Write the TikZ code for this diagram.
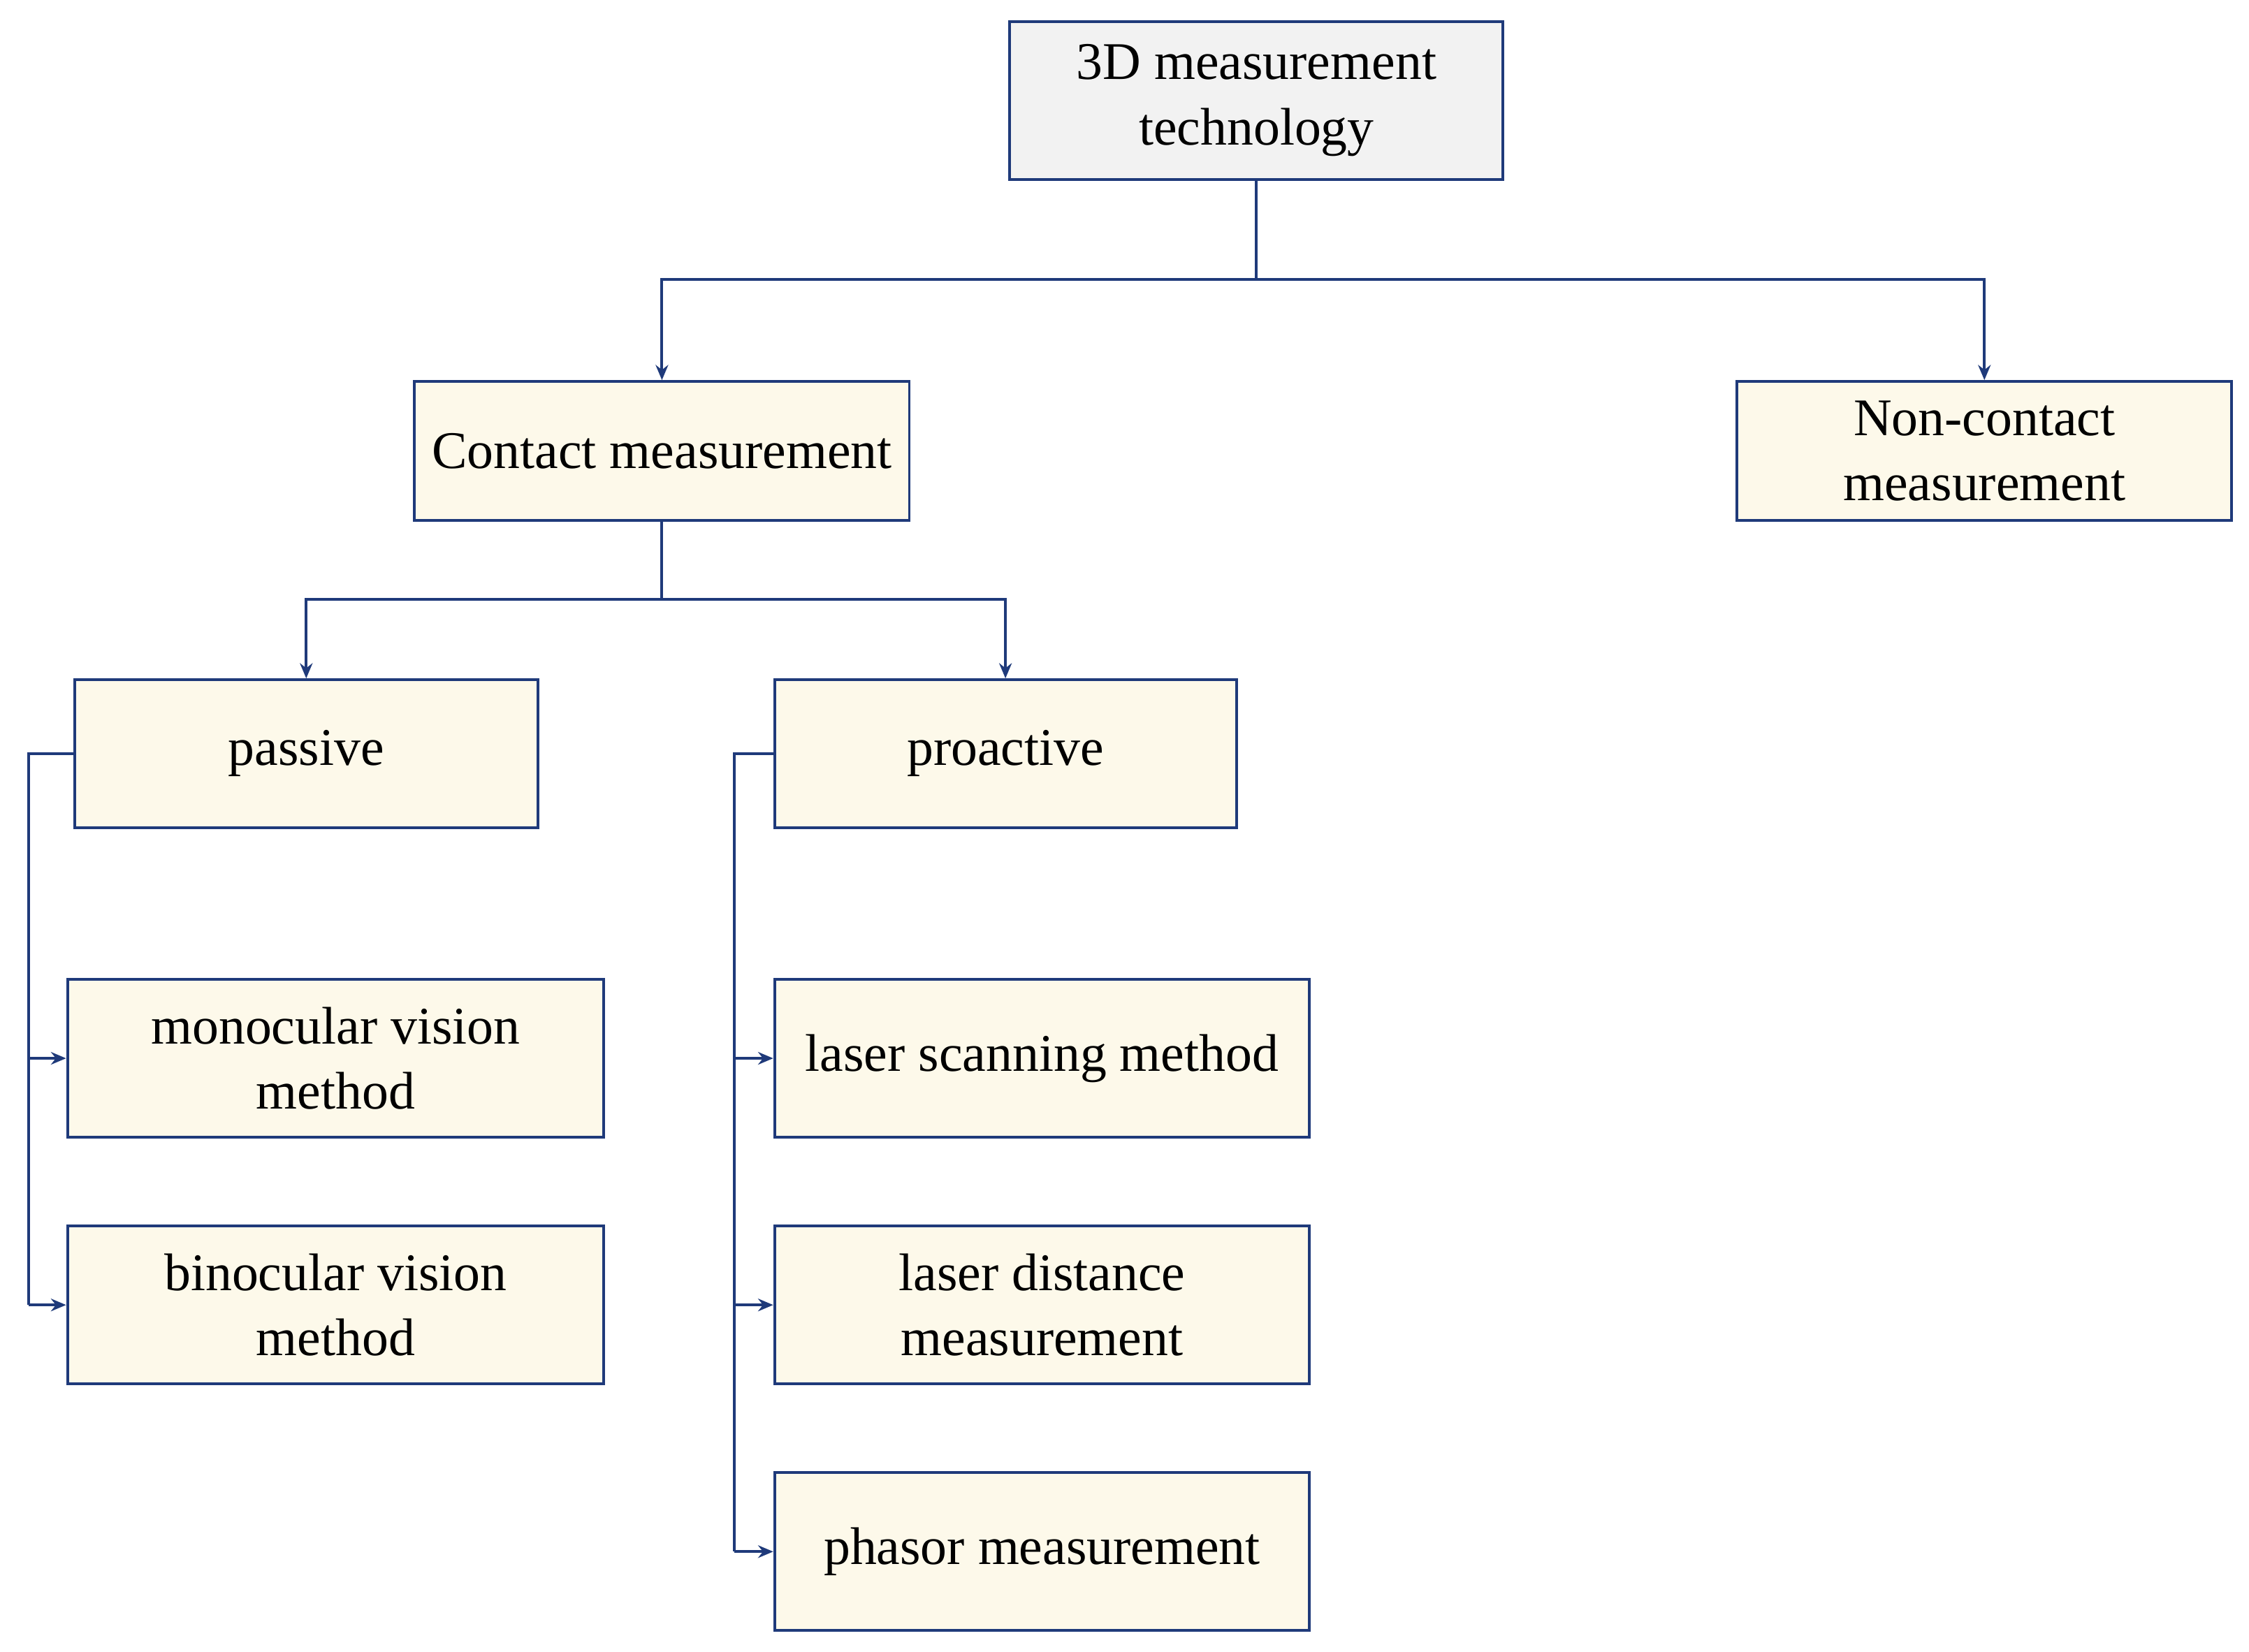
\documentclass[tikz,border=0pt]{standalone}
\usepackage{fontspec}
\setmainfont{Liberation Serif}
\usetikzlibrary{arrows.meta}
\definecolor{ln}{HTML}{1F3A7A}
\definecolor{cream}{HTML}{FDF9EA}
\begin{document}
\begin{tikzpicture}[x=0.02cm,y=-0.02cm,
 box/.style={draw=ln,line width=1.1pt,fill=cream,align=center,inner sep=0pt,font=\fontsize{21}{26}\selectfont},
 con/.style={draw=ln,line width=1.1pt},
 arr/.style={con,-{Stealth[length=6pt,width=5pt]}}]
\useasboundingbox (0,0) rectangle (1568,1152);
\node[box,fill={rgb,255:red,242;green,242;blue,242},minimum width=6.88cm,minimum height=2.2cm] (root) at (876,70) {3D measurement\\technology};
\node[box,minimum width=6.9cm,minimum height=1.94cm] (con) at (461.5,314.5) {Contact measurement};
\node[box,minimum width=6.9cm,minimum height=1.94cm] (non) at (1383.5,314.5) {Non-contact\\measurement};
\node[box,minimum width=6.46cm,minimum height=2.06cm] (pas) at (213.5,525.5) {passive};
\node[box,minimum width=6.44cm,minimum height=2.06cm] (pro) at (701,525.5) {proactive};
\node[box,minimum width=7.48cm,minimum height=2.2cm] (mon) at (234,738) {monocular vision\\method};
\node[box,minimum width=7.48cm,minimum height=2.2cm] (bin) at (234,910) {binocular vision\\method};
\node[box,minimum width=7.46cm,minimum height=2.2cm] (ls) at (726.5,738) {laser scanning method};
\node[box,minimum width=7.46cm,minimum height=2.2cm] (ld) at (726.5,910) {laser distance\\measurement};
\node[box,minimum width=7.46cm,minimum height=2.2cm] (ph) at (726.5,1082) {phasor measurement};
\coordinate (j1) at (876,195);
\coordinate (j2) at (461.5,418);
\draw[con] (root.south) -- (j1);
\draw[arr] (j1) -| (con.north);
\draw[arr] (j1) -| (non.north);
\draw[con] (con.south) -- (j2);
\draw[arr] (j2) -| (pas.north);
\draw[arr] (j2) -| (pro.north);
\coordinate (pv) at (20,525.5);
\draw[con] (pas.west) -- (pv) -- (20,910);
\draw[arr] (20,738) -- (mon.west);
\draw[arr] (20,910) -- (bin.west);
\coordinate (rv) at (512,525.5);
\draw[con] (pro.west) -- (rv) -- (512,1082);
\draw[arr] (512,738) -- (ls.west);
\draw[arr] (512,910) -- (ld.west);
\draw[arr] (512,1082) -- (ph.west);
\end{tikzpicture}
\end{document}
